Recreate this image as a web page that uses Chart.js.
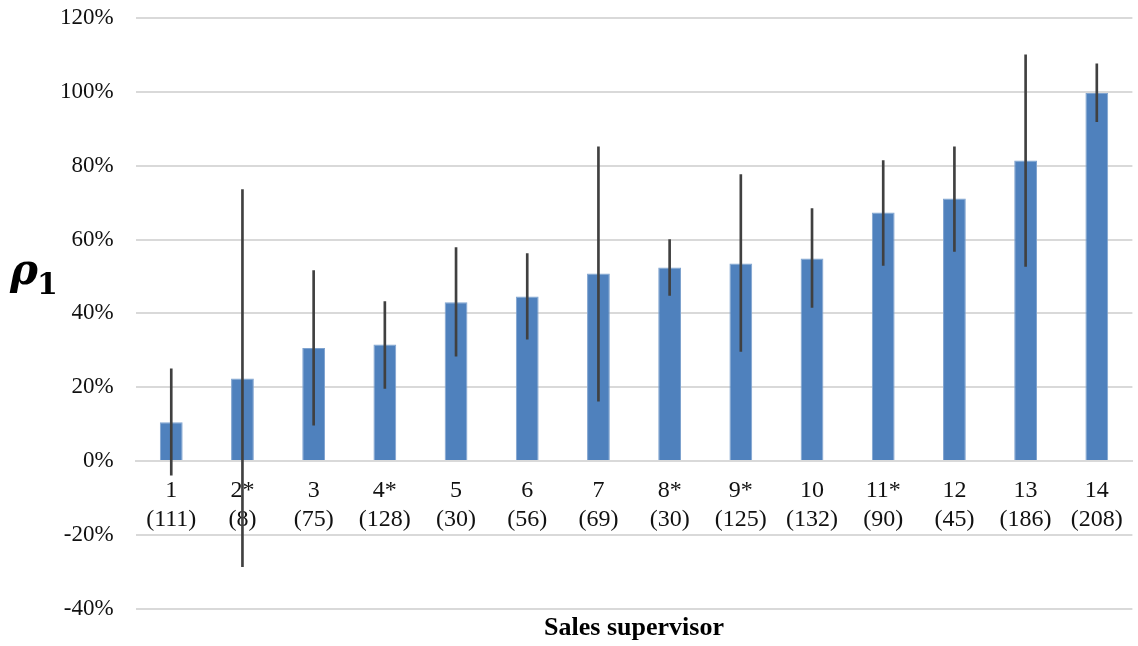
<!DOCTYPE html>
<html>
<head>
<meta charset="utf-8">
<script src="https://cdn.jsdelivr.net/npm/chart.js@4/dist/chart.umd.min.js"></script>
<style>
  html, body { margin: 0; padding: 0; background: #fff; }
  #wrap { width: 1138px; height: 646px; }
</style>
</head>
<body>
<div id="wrap"><canvas id="rhoChart"></canvas></div>
<script>
// supervisors (asterisk kept as in the original) and sample sizes
const supervisors = ["1", "2*", "3", "4*", "5", "6", "7", "8*", "9*", "10", "11*", "12", "13", "14"];
const sampleSizes = [111, 8, 75, 128, 30, 56, 69, 30, 125, 132, 90, 45, 186, 208];

// rho_1 in percent, with lower / upper ends of the error bars
const rhoValues = [10.5, 22.4, 30.6, 31.6, 43.0, 44.6, 50.8, 52.4, 53.5, 54.9, 67.3, 71.1, 81.4, 99.7];
const errLow = [-3.8, -28.6, 9.7, 19.7, 28.4, 33.0, 16.2, 44.9, 29.7, 41.6, 53.0, 56.8, 52.7, 91.9];
const errHigh = [25.0, 73.5, 51.6, 43.2, 57.8, 56.2, 85.1, 60.0, 77.6, 68.4, 81.4, 85.1, 110.0, 107.6];

const yTicks = [-40, -20, 0, 20, 40, 60, 80, 100, 120];

const labels = supervisors.map((s, i) => [s, "(" + sampleSizes[i] + ")"]);
const errRanges = errLow.map((lo, i) => [lo, errHigh[i]]);

const serif = "'Liberation Serif', 'Times New Roman', serif";

// horizontal rho_1 label left of the axis
const rhoLabel = {
  id: "rhoLabel",
  afterDraw(chart) {
    const ctx = chart.ctx;
    const y = (chart.chartArea.top + chart.chartArea.bottom) / 2;
    ctx.save();
    ctx.fillStyle = "#000";
    ctx.textBaseline = "alphabetic";
    ctx.font = "bold italic 42px 'DejaVu Serif', serif";
    ctx.fillText("\u03C1", 10, y - 29);
    const w = ctx.measureText("\u03C1").width;
    ctx.font = "bold 30px 'DejaVu Serif', serif";
    ctx.fillText("1", 10 + w - 1, y - 19);
    ctx.restore();
  }
};

new Chart(document.getElementById("rhoChart"), {
  type: "bar",
  data: {
    labels: labels,
    datasets: [
      {
        label: "error",
        data: errRanges,
        backgroundColor: "#404040",
        barThickness: 2,
        grouped: false,
        order: 0
      },
      {
        label: "rho1",
        data: rhoValues,
        backgroundColor: "#4F81BD",
        borderColor: "#7FA3CF",
        borderWidth: { left: 1, right: 1, top: 1, bottom: 0 },
        categoryPercentage: 1,
        barPercentage: 0.32,
        grouped: false,
        order: 1
      }
    ]
  },
  options: {
    responsive: true,
    maintainAspectRatio: false,
    animation: false,
    layout: { padding: { left: 38, right: -5, top: 0, bottom: 0 } },
    plugins: {
      legend: { display: false },
      tooltip: { enabled: false },
      title: {
        display: true,
        position: "bottom",
        fullSize: false,
        text: "Sales supervisor",
        color: "#000",
        font: { family: serif, size: 26, weight: "bold" },
        padding: { top: 4, bottom: 2 }
      }
    },
    scales: {
      x: {
        position: { y: 0 },
        grid: { display: false, drawTicks: false },
        border: { display: true, color: "#d9d9d9", width: 2 },
        ticks: {
          color: "#111",
          font: { family: serif, size: 24, lineHeight: 1.2 },
          padding: 15,
          maxRotation: 0,
          autoSkip: false
        }
      },
      y: {
        min: -40,
        max: 120,
        afterBuildTicks: (scale) => { scale.ticks = yTicks.map(v => ({ value: v })); },
        afterFit: (s) => { s.paddingTop = 18; },
        grid: { color: "#d9d9d9", lineWidth: 2, drawTicks: false },
        border: { display: false },
        ticks: {
          color: "#111",
          font: { family: serif, size: 23 },
          padding: 22,
          callback: (v) => v + "%"
        }
      }
    }
  },
  plugins: [rhoLabel]
});
</script>
</body>
</html>
